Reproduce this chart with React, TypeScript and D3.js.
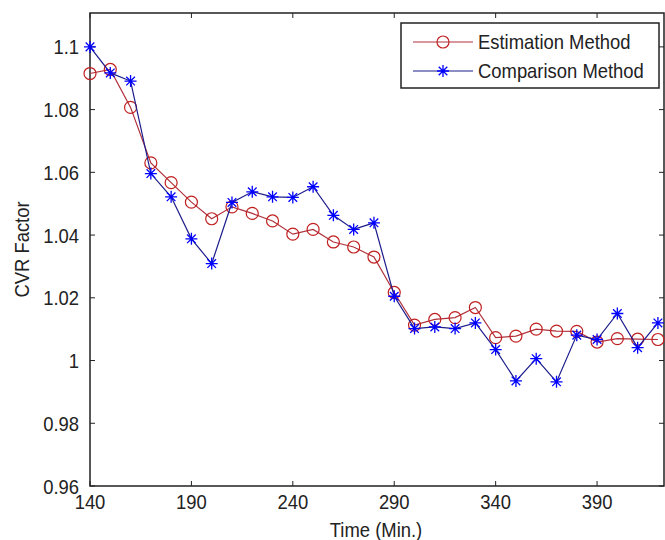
import React from 'react';
import * as d3 from 'd3';

// time in minutes, every 10 min
const times = [140, 150, 160, 170, 180, 190, 200, 210, 220, 230, 240, 250, 260, 270, 280,
  290, 300, 310, 320, 330, 340, 350, 360, 370, 380, 390, 400, 410, 420];

const estimation = [1.0915, 1.0928, 1.0807, 1.0630, 1.0567, 1.0505, 1.0452, 1.0490, 1.0469, 1.0445,
  1.0403, 1.0418, 1.0378, 1.0362, 1.0330, 1.0217, 1.0113, 1.0131, 1.0137, 1.0169,
  1.0073, 1.0078, 1.0100, 1.0094, 1.0093, 1.0059, 1.0070, 1.0068, 1.0067];

const comparison = [1.1000, 1.0917, 1.0891, 1.0596, 1.0522, 1.0388, 1.0309, 1.0504, 1.0538, 1.0522,
  1.0520, 1.0554, 1.0463, 1.0418, 1.0439, 1.0205, 1.0102, 1.0107, 1.0102, 1.0120,
  1.0035, 0.9935, 1.0006, 0.9932, 1.0081, 1.0067, 1.0150, 1.0041, 1.0120];

const xTicks = [140, 190, 240, 290, 340, 390];
const yTicks = [0.96, 0.98, 1, 1.02, 1.04, 1.06, 1.08, 1.1];
const seriesNames = ['Estimation Method', 'Comparison Method'];

const width = 665;
const height = 540;
const margins = { left: 90, right: 1, top: 13, bottom: 54 };
const font = '"Liberation Sans", Arial, sans-serif';

const redLine = '#b0303a';
const redMark = '#c02020';
const blueLine = '#1c1c8c';
const blueMark = '#0000ff';

// text slightly stretched vertically like the original export
const Label = ({ x, y, anchor, rotate, children }: any) => (
  <text
    transform={`translate(${x},${y})${rotate ? `rotate(${rotate})` : ''}scale(0.97,1.1)`}
    textAnchor={anchor || 'start'}
    fontFamily={font}
    fontSize={19}
    fill="#222"
  >{children}</text>
);

const Star = ({ x, y }: { x: number; y: number }) => {
  const r = 6, d = 4.3;
  return (
    <path
      d={`M${x - r},${y}H${x + r}M${x},${y - r}V${y + r}M${x - d},${y - d}L${x + d},${y + d}M${x - d},${y + d}L${x + d},${y - d}`}
      stroke={blueMark}
      strokeWidth={1.3}
      fill="none"
    />
  );
};

const App = () => {
  const xScale = d3.scaleLinear()
    .domain([140, 423])
    .range([margins.left, width - margins.right]);

  const yScale = d3.scaleLinear()
    .domain([0.96, 1.1108])
    .range([height - margins.bottom, margins.top]);

  const line = d3.line<number>()
    .x((d, i) => xScale(times[i]))
    .y((d) => yScale(d));

  const x0 = xScale.range()[0], x1 = xScale.range()[1];
  const y0 = yScale.range()[0], y1 = yScale.range()[1];
  const tl = 5;

  return (
    <svg width={width} height={height} style={{ position: 'absolute', left: 0, top: 0, background: '#fff' }}>
      <rect x={0} y={0} width={width} height={height} fill="#fff" />

      {/* ticks on all four sides, pointing inward */}
      {xTicks.map(t => (
        <g key={'x' + t}>
          <line x1={xScale(t)} x2={xScale(t)} y1={y0} y2={y0 - tl} stroke="#222" />
          <line x1={xScale(t)} x2={xScale(t)} y1={y1} y2={y1 + tl} stroke="#222" />
          <Label x={xScale(t)} y={509} anchor="middle">{t}</Label>
        </g>
      ))}
      {yTicks.map(t => (
        <g key={'y' + t}>
          <line x1={x0} x2={x0 + tl} y1={yScale(t)} y2={yScale(t)} stroke="#222" />
          <line x1={x1} x2={x1 - tl} y1={yScale(t)} y2={yScale(t)} stroke="#222" />
          <Label x={79} y={yScale(t) + 7.5} anchor="end">{String(t)}</Label>
        </g>
      ))}

      <rect x={x0} y={y1} width={x1 - x0} height={y0 - y1} fill="none" stroke="#222" strokeWidth={1.5} />

      <Label x={376} y={537} anchor="middle">Time (Min.)</Label>
      <Label x={29} y={(y0 + y1) / 2} anchor="middle" rotate={-90}>CVR Factor</Label>

      <path d={line(estimation) || ''} fill="none" stroke={redLine} strokeWidth={1.2} />
      {estimation.map((v, i) => (
        <circle key={'e' + i} cx={xScale(times[i])} cy={yScale(v)} r={6} fill="none" stroke={redMark} strokeWidth={1.2} />
      ))}

      <path d={line(comparison) || ''} fill="none" stroke={blueLine} strokeWidth={1.2} />
      {comparison.map((v, i) => (
        <Star key={'c' + i} x={xScale(times[i])} y={yScale(v)} />
      ))}

      {/* legend */}
      <g>
        <rect x={401} y={23} width={258} height={65} fill="#fff" stroke="#222" strokeWidth={1.5} />
        <line x1={413} x2={473} y1={42} y2={42} stroke={redLine} strokeWidth={1.2} />
        <circle cx={443} cy={42} r={6} fill="none" stroke={redMark} strokeWidth={1.2} />
        <Label x={478} y={49}>{seriesNames[0]}</Label>
        <line x1={413} x2={473} y1={71} y2={71} stroke={blueLine} strokeWidth={1.2} />
        <Star x={443} y={71} />
        <Label x={478} y={78}>{seriesNames[1]}</Label>
      </g>
    </svg>
  );
};

export default App;
